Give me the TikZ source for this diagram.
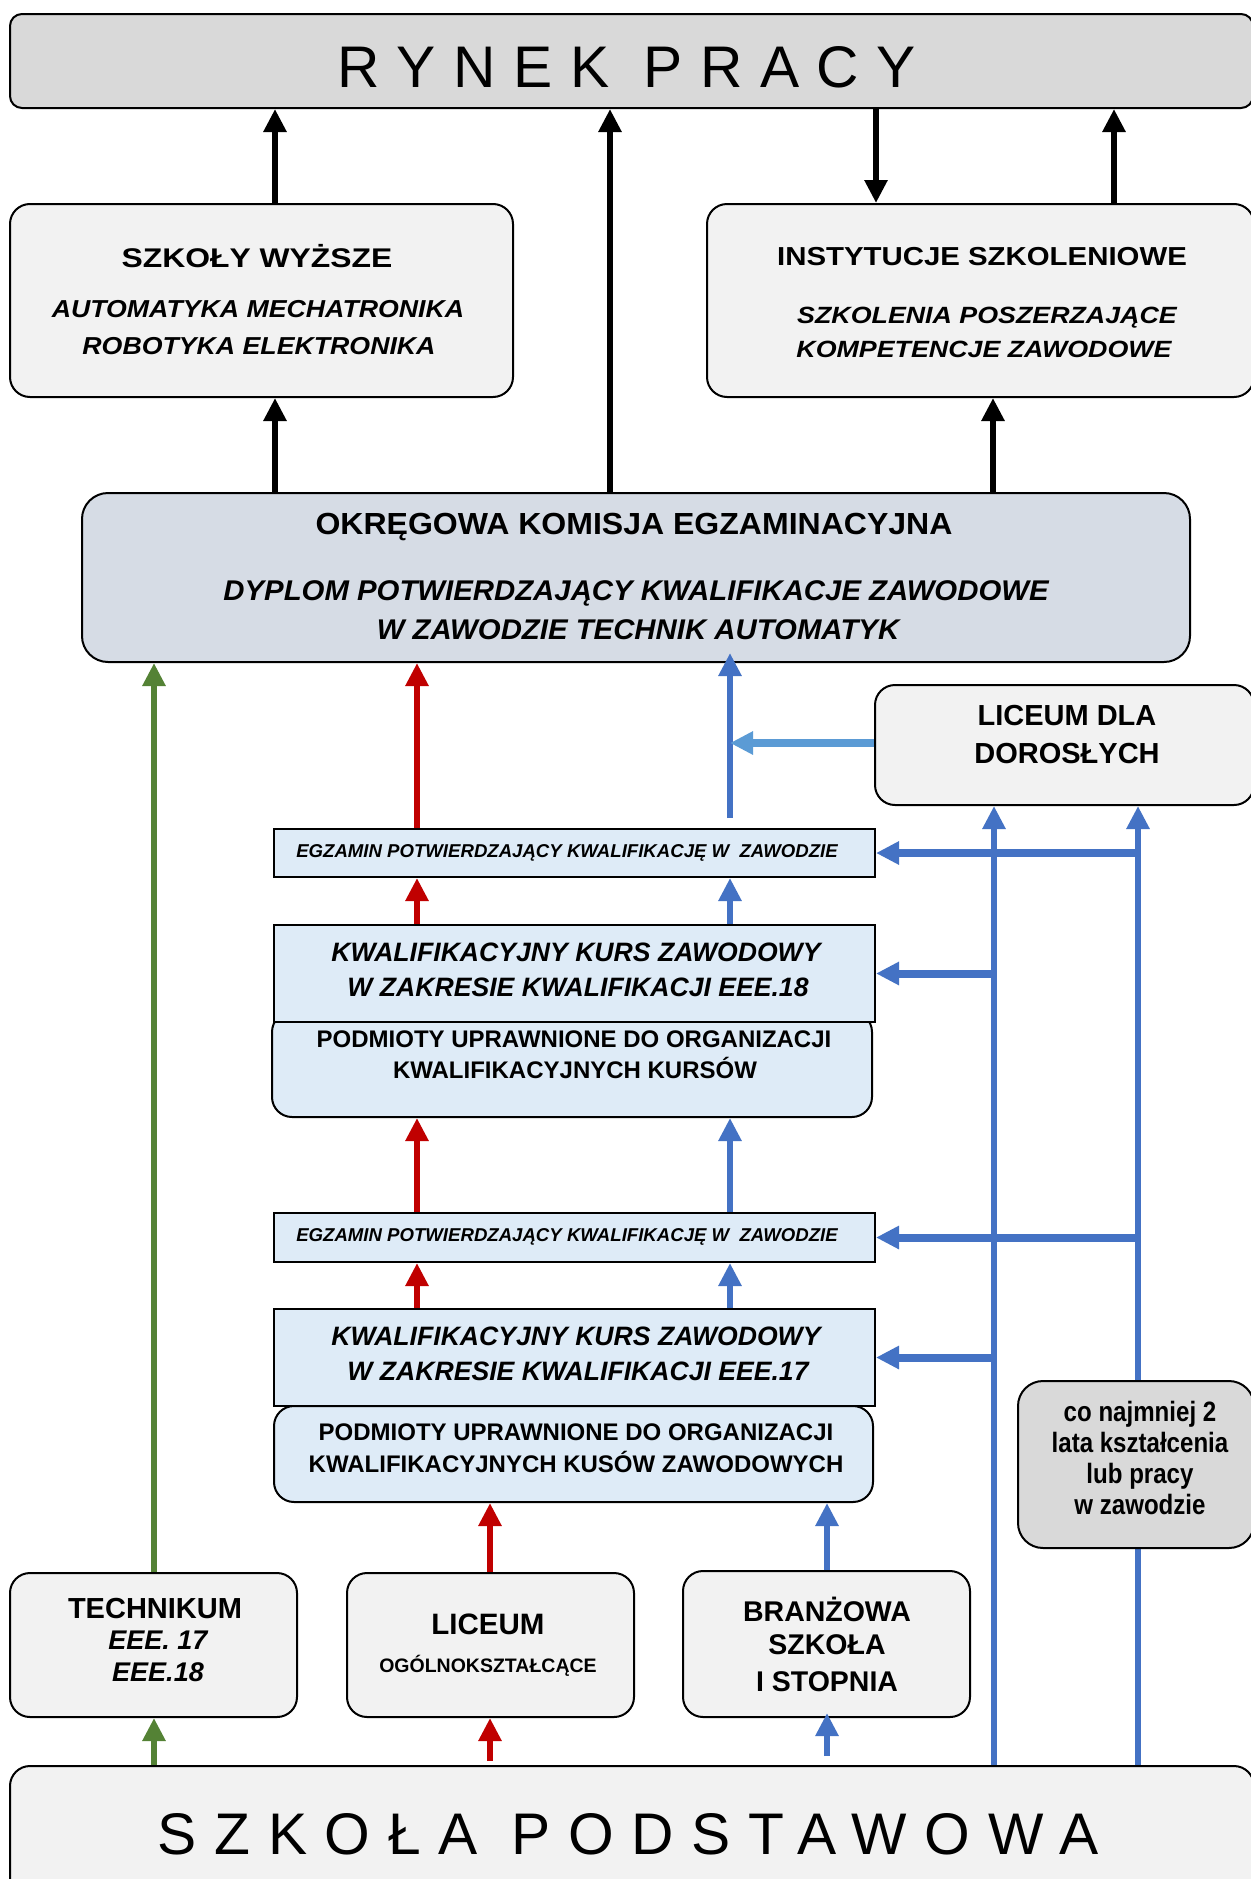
\documentclass[tikz,border=0pt]{standalone}
\usepackage{fontspec}
\setmainfont{Liberation Sans}
\usetikzlibrary{arrows.meta}
\definecolor{cgray}{HTML}{D9D9D9}
\definecolor{clight}{HTML}{F2F2F2}
\definecolor{coke}{HTML}{D6DCE5}
\definecolor{cpale}{HTML}{DEEBF7}
\definecolor{cgreen}{HTML}{548235}
\definecolor{cred}{HTML}{C00000}
\definecolor{cblue}{HTML}{4472C4}
\definecolor{csky}{HTML}{5B9BD5}
\newcommand\myfs[1]{\fontsize{#1}{#1}\selectfont}
\begin{document}
\begin{tikzpicture}[x=1pt,y=-1pt,
  rbox/.style={draw=black,line width=2pt,rounded corners=20pt,inner sep=0pt},
  sbox/.style={draw=black,line width=2pt,inner sep=0pt},
  tx/.style={inner sep=0pt,anchor=base,align=center},
  bt/.style={tx,font=\bfseries\myfs{#1}},
  it/.style={tx,font=\bfseries\itshape\myfs{#1}},
  tip/.style={-{Triangle[width=22pt,length=23pt]}},
  blk/.style={tip,draw=black,line width=6pt},
  grn/.style={tip,draw=cgreen,line width=6pt},
  rd/.style={tip,draw=cred,line width=6pt},
  bl/.style={tip,draw=cblue,line width=6pt},
  blt/.style={tip,draw=cblue,line width=8pt},
  sk/.style={tip,draw=csky,line width=8pt}]
\useasboundingbox (0,0) rectangle (1250,1879);
\fill[white] (0,0) rectangle (1250,1879);

% boxes
\node[rbox,rounded corners=12pt,fill=cgray,minimum width=1243pt,minimum height=94pt] (rynek) at (631.5,61) {};
\node[rbox,fill=clight,minimum width=503pt,minimum height=193pt] (szk) at (261.5,300.5) {};
\node[rbox,fill=clight,minimum width=547pt,minimum height=193pt] (inst) at (980.5,300.5) {};
\node[rbox,rounded corners=26pt,fill=coke,minimum width=1108pt,minimum height=169pt] (oke) at (636,577.5) {};
\node[rbox,fill=clight,minimum width=379pt,minimum height=120pt] (ldd) at (1064.5,745) {};
\node[sbox,fill=cpale,minimum width=601pt,minimum height=48pt] (egz1) at (574.5,853) {};
\node[rbox,fill=cpale,minimum width=600pt,minimum height=105pt] (pod18) at (572,1064.5) {};
\node[sbox,fill=cpale,minimum width=601pt,minimum height=97pt] (kkz18) at (574.5,973.5) {};
\node[sbox,fill=cpale,minimum width=601pt,minimum height=49pt] (egz2) at (574.5,1237.5) {};
\node[rbox,fill=cpale,minimum width=599pt,minimum height=96pt] (pod17) at (573.5,1454) {};
\node[sbox,fill=cpale,minimum width=601pt,minimum height=97pt] (kkz17) at (574.5,1357.5) {};
\node[rbox,fill=clight,minimum width=287pt,minimum height=144pt] (tech) at (153.5,1645) {};
\node[rbox,fill=clight,minimum width=287pt,minimum height=144pt] (lic) at (490.5,1645) {};
\node[rbox,fill=clight,minimum width=287pt,minimum height=146pt] (bran) at (826.5,1644) {};
\node[rbox,fill=clight,minimum width=1244pt,minimum height=134pt] (sp) at (632,1833) {};

% x positions of connectors
\coordinate (xA) at (275,0);
\coordinate (xB) at (610,0);
\coordinate (xC) at (876,0);
\coordinate (xD) at (1114,0);
\coordinate (xE) at (993,0);
\coordinate (xG) at (154,0);
\coordinate (xR) at (417,0);
\coordinate (xL) at (490,0);
\coordinate (xM) at (730,0);
\coordinate (xN) at (827,0);
\coordinate (xP) at (994,0);
\coordinate (xQ) at (1138,0);
\coordinate (ySky) at (0,743);

% black
\draw[blk] (szk.north -| xA) -- (rynek.south -| xA);
\draw[blk] (oke.north -| xB) -- (rynek.south -| xB);
\draw[blk] (rynek.south -| xC) -- (inst.north -| xC);
\draw[blk] (inst.north -| xD) -- (rynek.south -| xD);
\draw[blk] (oke.north -| xA) -- (szk.south -| xA);
\draw[blk] (oke.north -| xE) -- (inst.south -| xE);
% green
\draw[grn] (tech.north -| xG) -- (oke.south -| xG);
\draw[grn] (sp.north -| xG) -- (tech.south -| xG);
% red
\draw[rd] (egz1.north -| xR) -- (oke.south -| xR);
\draw[rd] (kkz18.north -| xR) -- (egz1.south -| xR);
\draw[rd] (egz2.north -| xR) -- (pod18.south -| xR);
\draw[rd] (kkz17.north -| xR) -- (egz2.south -| xR);
\draw[rd] (lic.north -| xL) -- (pod17.south -| xL);
\draw[rd] ([yshift=4pt]sp.north -| xL) -- (lic.south -| xL);
% blue
\draw[bl] ([yshift=10pt]egz1.north -| xM) -- ([yshift=10pt]oke.south -| xM);
\draw[bl] (kkz18.north -| xM) -- (egz1.south -| xM);
\draw[bl] (egz2.north -| xM) -- (pod18.south -| xM);
\draw[bl] (kkz17.north -| xM) -- (egz2.south -| xM);
\draw[bl] (bran.north -| xN) -- (pod17.south -| xN);
\draw[bl] ([yshift=9pt]sp.north -| xN) -- ([yshift=5pt]bran.south -| xN);
\draw[sk] (ldd.west |- ySky) -- (xM |- ySky);
\draw[bl] (sp.north -| xP) -- (ldd.south -| xP);
\draw[bl] (sp.north -| xQ) -- (ldd.south -| xQ);
\draw[blt] (xQ |- egz1.east) -- (egz1.east);
\draw[blt] (xP |- kkz18.east) -- (kkz18.east);
\draw[blt] (xQ |- egz2.east) -- (egz2.east);
\draw[blt] (xP |- kkz17.east) -- (kkz17.east);

% box drawn over the blue line
\node[rbox,rounded corners=25pt,fill=cgray,minimum width=236pt,minimum height=167pt] (cnm) at (1136,1464.5) {};

% texts
\node[tx,font=\myfs{58.7}\addfontfeatures{LetterSpace=30}] (t0) at (627,87) {RYNEK PRACY};
\node[bt=27,xscale=1.18] (t1) at (257,267) {SZKOŁY WYŻSZE};
\node[it=24.5,xscale=1.09] (t2) at (258,317) {AUTOMATYKA MECHATRONIKA};
\node[it=24.5,xscale=1.09] (t3) at (259,354) {ROBOTYKA ELEKTRONIKA};
\node[bt=26,xscale=1.13] (t4) at (982,265) {INSTYTUCJE SZKOLENIOWE};
\node[it=23.5,xscale=1.14] (t5) at (987,323) {SZKOLENIA POSZERZAJĄCE};
\node[it=23.5,xscale=1.14] (t6) at (984,357) {KOMPETENCJE ZAWODOWE};
\node[bt=30.5,xscale=1.05] (t7) at (634,534) {OKRĘGOWA KOMISJA EGZAMINACYJNA};
\node[it=28.5,xscale=1.03] (t8) at (636,600) {DYPLOM POTWIERDZAJĄCY KWALIFIKACJE ZAWODOWE};
\node[it=28.5,xscale=1.03] (t9) at (638,639) {W ZAWODZIE TECHNIK AUTOMATYK};
\node[bt=29] (t10) at (1067,725) {LICEUM DLA};
\node[bt=29] (t11) at (1067,763) {DOROSŁYCH};
\node[it=18.6] (t12) at (567,857) {EGZAMIN POTWIERDZAJĄCY KWALIFIKACJĘ W~~ZAWODZIE};
\node[it=26.6] (t13) at (576,961) {KWALIFIKACYJNY KURS ZAWODOWY};
\node[it=26.6] (t14) at (578,996) {W ZAKRESIE KWALIFIKACJI EEE.18};
\node[bt=24] (t15) at (574,1047) {PODMIOTY UPRAWNIONE DO ORGANIZACJI};
\node[bt=24] (t16) at (575,1078) {KWALIFIKACYJNYCH KURSÓW};
\node[it=18.6] (t17) at (567,1241) {EGZAMIN POTWIERDZAJĄCY KWALIFIKACJĘ W~~ZAWODZIE};
\node[it=26.6] (t18) at (576,1345) {KWALIFIKACYJNY KURS ZAWODOWY};
\node[it=26.6] (t19) at (578,1380) {W ZAKRESIE KWALIFIKACJI EEE.17};
\node[bt=24] (t20) at (576,1440) {PODMIOTY UPRAWNIONE DO ORGANIZACJI};
\node[bt=24] (t21) at (576,1472) {KWALIFIKACYJNYCH KUSÓW ZAWODOWYCH};
\node[bt=28,xscale=0.86] (t22) at (1140,1421) {co najmniej 2};
\node[bt=28,xscale=0.86] (t23) at (1140,1452) {lata kształcenia};
\node[bt=28,xscale=0.86] (t24) at (1140,1483) {lub pracy};
\node[bt=28,xscale=0.86] (t25) at (1140,1514) {w zawodzie};
\node[bt=29] (t26) at (155,1618) {TECHNIKUM};
\node[it=27] (t27) at (158,1649) {EEE. 17};
\node[it=27] (t28) at (158,1681) {EEE.18};
\node[bt=29.5] (t29) at (488,1634) {LICEUM};
\node[bt=19.5] (t30) at (488,1672) {OGÓLNOKSZTAŁCĄCE};
\node[bt=28.5] (t31) at (827,1621) {BRANŻOWA};
\node[bt=28.5] (t32) at (827,1654) {SZKOŁA};
\node[bt=28.5] (t33) at (827,1691) {I STOPNIA};
\node[tx,font=\myfs{58.7}\addfontfeatures{LetterSpace=30}] (t34) at (628,1854) {SZKOŁA PODSTAWOWA};
\end{tikzpicture}
\end{document}
